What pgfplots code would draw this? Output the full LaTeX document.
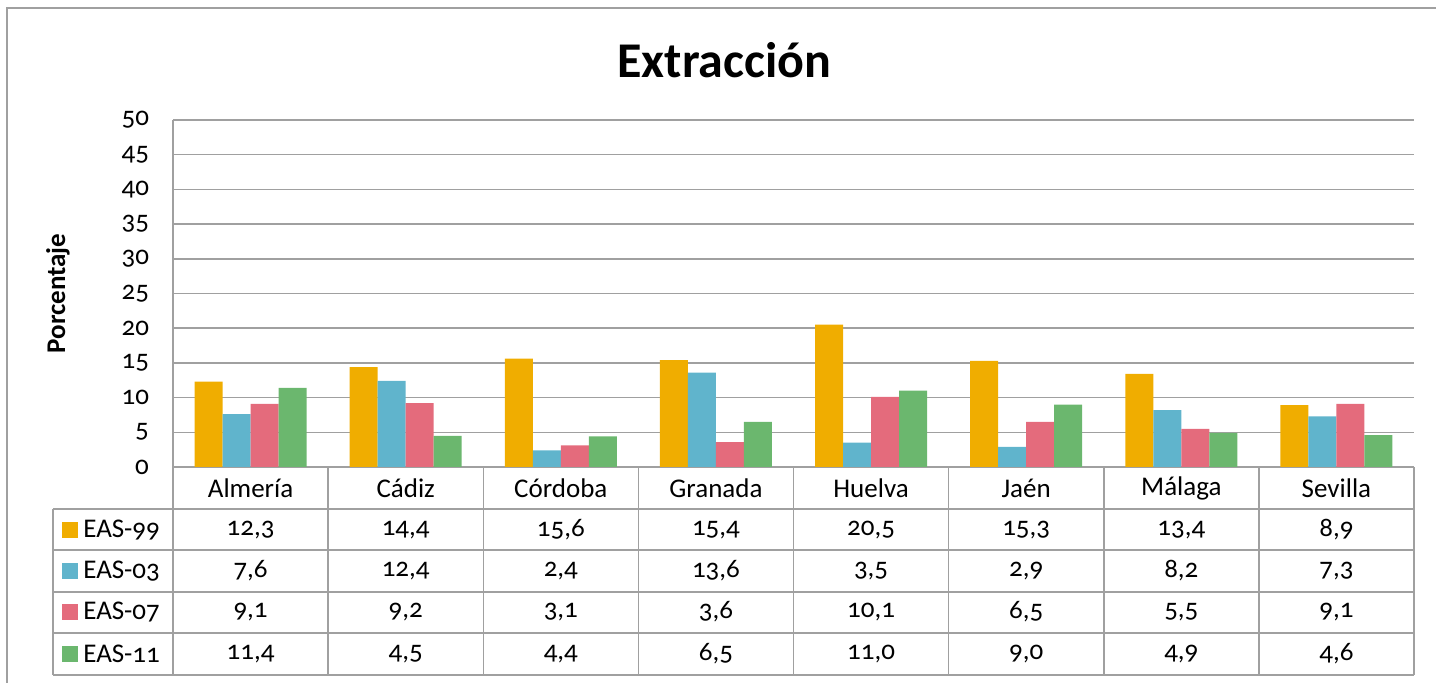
\documentclass[border=0pt]{standalone}
\usepackage{fontspec}
\setmainfont{Carlito}[Numbers=OldStyle]
\usepackage{pgfplots}
\usepackage{pgfplotstable}
\pgfplotsset{compat=1.18}

\definecolor{c99}{HTML}{F0AD00}
\definecolor{c03}{HTML}{60B4CC}
\definecolor{c07}{HTML}{E46B7C}
\definecolor{c11}{HTML}{6BB76E}
\definecolor{gridgray}{HTML}{A0A0A0}

\pgfplotstableread{
x cat eas99 eas03 eas07 eas11
0 Almería 12.3 7.6 9.1 11.4
1 Cádiz 14.4 12.4 9.2 4.5
2 Córdoba 15.6 2.4 3.1 4.4
3 Granada 15.4 13.6 3.6 6.5
4 Huelva 20.5 3.5 10.1 11.0
5 Jaén 15.3 2.9 6.5 9.0
6 Málaga 13.4 8.2 5.5 4.9
7 Sevilla 8.9 7.3 9.1 4.6
}\datatable

\newcommand{\txt}{\fontsize{13.5}{16}\selectfont}

\begin{document}
\begin{tikzpicture}
\path[use as bounding box] (-86.5pt,-108pt) rectangle (631.5pt,233.5pt);
\draw[gridgray, line width=0.75pt] (-83pt,-108pt) -- (-83pt,229.5pt) -- (631.5pt,229.5pt);

\node[font=\fontsize{25}{30}\selectfont\bfseries] at (275.75pt,203.5pt) {Extracción};
\node[rotate=90, font=\txt\bfseries] at (-57.5pt,86.75pt) {Porcentaje};

\begin{axis}[
    at={(0,0)}, anchor=south west,
    scale only axis,
    width=620.5pt, height=173.5pt,
    ybar=0pt, bar width=14pt,
    xmin=-0.5, xmax=7.5,
    ymin=0, ymax=50,
    ytick={0,5,...,50},
    xtick=\empty,
    ymajorgrids,
    grid style={gridgray, line width=0.75pt},
    axis y line*=left, axis x line*=bottom,
    axis line style={gridgray, line width=0.75pt},
    major tick length=0pt,
    yticklabel style={anchor=east, xshift=-8.5pt},
    /pgf/number format/assume math mode=true,
    tick label style={font=\txt},
    clip=false,
]
\addplot[fill=c99, draw=none] table[x=x, y=eas99] {\datatable};
\addplot[fill=c03, draw=none] table[x=x, y=eas03] {\datatable};
\addplot[fill=c07, draw=none] table[x=x, y=eas07] {\datatable};
\addplot[fill=c11, draw=none] table[x=x, y=eas11] {\datatable};
\end{axis}

% data table below the plot
\begin{scope}[gridgray, line width=0.75pt]
\foreach \yy in {-21,-41.5,-62.5,-83,-104}
  \draw (-60pt,\yy pt) -- (620.5pt,\yy pt);
\draw (-60pt,-21pt) -- (-60pt,-104pt);
\foreach \k in {0,...,8}
  \draw ({\k*77.5625pt},0pt) -- ({\k*77.5625pt},-104pt);
\end{scope}

\foreach \c/\lab/\yy in {c99/EAS-99/-31.5, c03/EAS-03/-52, c07/EAS-07/-72.5, c11/EAS-11/-93.5} {
  \fill[\c] ({-55.5pt},{\yy pt-4pt}) rectangle ++(8pt,8pt);
  \node[anchor=west, inner sep=0pt, font=\txt] at (-45pt,\yy pt) {\lab};
}

\foreach \r in {0,...,7} {
  \pgfplotstablegetelem{\r}{cat}\of\datatable
  \node[font=\txt] at ({(\r+0.5)*77.5625pt},-10.5pt) {\pgfplotsretval};
  \foreach \col/\yy in {eas99/-31.5, eas03/-52, eas07/-72.5, eas11/-93.5} {
    \pgfplotstablegetelem{\r}{\col}\of\datatable
    \node[font=\txt] at ({(\r+0.5)*77.5625pt},\yy pt)
      {\pgfmathprintnumber[fixed, fixed zerofill, precision=1, use comma, assume math mode=true]{\pgfplotsretval}};
  }
}
\end{tikzpicture}
\end{document}
